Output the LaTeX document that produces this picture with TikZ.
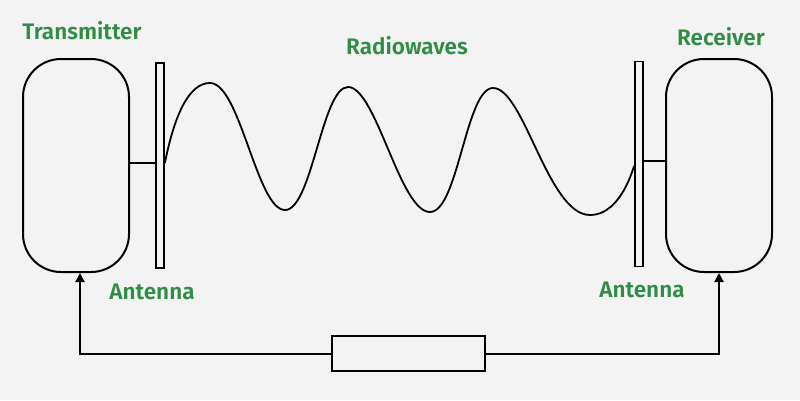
\documentclass[tikz,border=0pt]{standalone}
\usepackage{fontspec}
\setmainfont{Noto Sans}
\newfontfamily\lblfont{Fira Sans}[UprightFont=* SemiBold]
\usetikzlibrary{arrows.meta}
\definecolor{bg}{HTML}{F3F3F3}
\definecolor{ggreen}{HTML}{2F8D46}
\begin{document}
\begin{tikzpicture}[x=1pt,y=-1pt,
  unit/.style={draw,line width=2pt,rounded corners=38pt,minimum width=106pt,minimum height=213pt,inner sep=0pt},
  antenna/.style={draw,line width=1.8pt,minimum width=8pt,minimum height=205pt,inner sep=0pt},
  filterbox/.style={draw,line width=2pt,minimum width=153pt,minimum height=35pt,inner sep=0pt},
  lbl/.style={text=ggreen,font=\lblfont\fontsize{22.5}{24}\selectfont,inner sep=0pt},
  wire/.style={line width=2pt},
  arr/.style={line width=2pt,-{Triangle[width=9pt,length=9pt]}}]
\fill[bg] (0,0) rectangle (800,400);
\useasboundingbox (0,0) rectangle (800,400);
\node[unit] (tx) at (76,165.5) {};
\node[unit] (rx) at (719,165.5) {};
\node[antenna] (a1) at (160,165.5) {};
\node[antenna] (a2) at (639,164) {};
\node[filterbox] (fb) at (408.5,353.5) {};
\node[lbl] (ltx) at (82,31) {Transmitter};
\node[lbl] (lrw) at (407,46) {Radiowaves};
\node[lbl] (lrx) at (721,37) {Receiver};
\node[lbl] (la1) at (152,292) {Antenna};
\node[lbl] (la2) at (642,290) {Antenna};
\draw[wire] (tx.east |- 0,163) -- (a1.west |- 0,163);
\draw[wire] (rx.west |- 0,161) -- (a2.east |- 0,161);
\coordinate (ws) at (a1.east |- 0,163);
\coordinate (we) at (a2.west |- 0,166);
\coordinate (txin) at ([xshift=4pt]tx.south);
\draw[line width=1.8pt] (ws) .. controls (175,112) and (190,83) .. (210,83)
  .. controls (240,83) and (257,210) .. (285,210)
  .. controls (312,210) and (322,87) .. (348,87)
  .. controls (376,87) and (400,212) .. (430,212)
  .. controls (458,212) and (466,88) .. (493,88)
  .. controls (524,88) and (548,215) .. (590,215)
  .. controls (610,215) and (625,195) .. (we);
\draw[arr] (fb.west) -| (txin);
\draw[arr] (fb.east) -| (rx.south);
\end{tikzpicture}
\end{document}
